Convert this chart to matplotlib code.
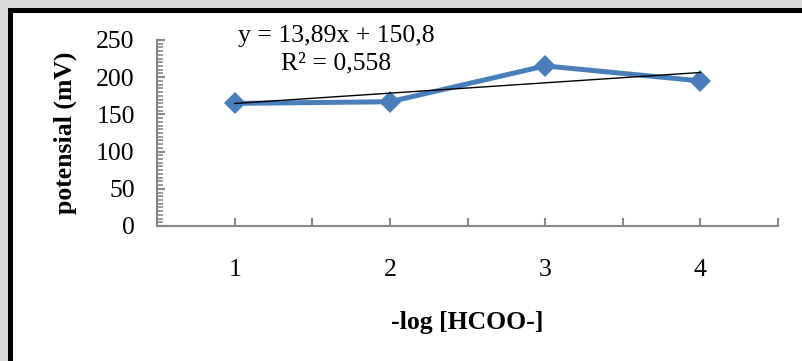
import numpy as np
import matplotlib
matplotlib.use("Agg")
import matplotlib.pyplot as plt
from matplotlib.patches import Rectangle
from matplotlib.lines import Line2D
from matplotlib.ticker import MultipleLocator

plt.rcParams['font.family'] = ['Liberation Serif', 'DejaVu Serif']

# data
categories = ['1', '2', '3', '4']
potensial = [164.8, 167.0, 215.2, 195.0]
eq_text = "y = 13,89x + 150,8"
r2_text = "R\u00b2 = 0,558"

x = np.arange(1, len(categories) + 1)
slope, intercept = np.polyfit(x, potensial, 1)

fs = 18.5

fig = plt.figure(figsize=(8.02, 3.61), dpi=100)
fig.patch.set_facecolor('#d9d9d9')
fig.patch.set_edgecolor('none')
fig.patch.set_linewidth(0)

# white chart box; only its top and left black frame are inside the crop
bx, by = 9.5 / 802, 1 - 9.5 / 361
fig.patches.append(Rectangle((bx, -0.1), 1.2, by + 0.1, transform=fig.transFigure,
                             facecolor='white', edgecolor='none', linewidth=0,
                             zorder=-5))
fig.lines.append(Line2D([bx, bx, 1.05], [-0.05, by, by], transform=fig.transFigure,
                        color='black', linewidth=3.6, solid_joinstyle='miter',
                        zorder=-4))

ax = fig.add_axes([157 / 802, 1 - 226 / 361, (778 - 157) / 802, (226 - 40) / 361])
ax.set_zorder(2)
ax.set_facecolor('none')

ax.plot(x, potensial, color='#4a7ebb', linewidth=3.6, marker='D',
        markersize=11.5, markeredgewidth=0, zorder=3)
ax.plot([1, 4], [slope * 1 + intercept, slope * 4 + intercept],
        color='black', linewidth=1.0, zorder=4)

ax.set_xlim(0.5, 4.5)
ax.set_ylim(0, 250)
ax.set_xticks(x)
ax.set_xticklabels(categories)
ax.xaxis.set_minor_locator(MultipleLocator(0.5))
ax.yaxis.set_major_locator(MultipleLocator(50))
ax.yaxis.set_minor_locator(MultipleLocator(5))

axis_col = '#878787'
for s in ['top', 'right']:
    ax.spines[s].set_visible(False)
for s in ['left', 'bottom']:
    ax.spines[s].set_color(axis_col)
    ax.spines[s].set_linewidth(1.5)

ax.tick_params(axis='x', which='both', direction='in', color=axis_col,
               width=1.5, length=6, pad=24, labelsize=fs)
ax.tick_params(axis='y', which='major', direction='in', color=axis_col,
               width=1.5, length=6, pad=16, labelsize=fs)
ax.tick_params(axis='y', which='minor', direction='in', color=axis_col,
               width=1.2, length=4)

ax.set_xlabel('-log [HCOO-]', fontsize=fs, fontweight='bold', labelpad=21)
ax.set_ylabel('potensial (mV)', fontsize=fs, fontweight='bold', labelpad=14)

fig.text(336 / 802, 1 - 36 / 361, eq_text, fontsize=fs, ha='center', va='center', zorder=5)
fig.text(336 / 802, 1 - 63 / 361, r2_text, fontsize=fs, ha='center', va='center', zorder=5)

fig.savefig('out.png', dpi=100, facecolor=fig.get_facecolor(), edgecolor='none')
